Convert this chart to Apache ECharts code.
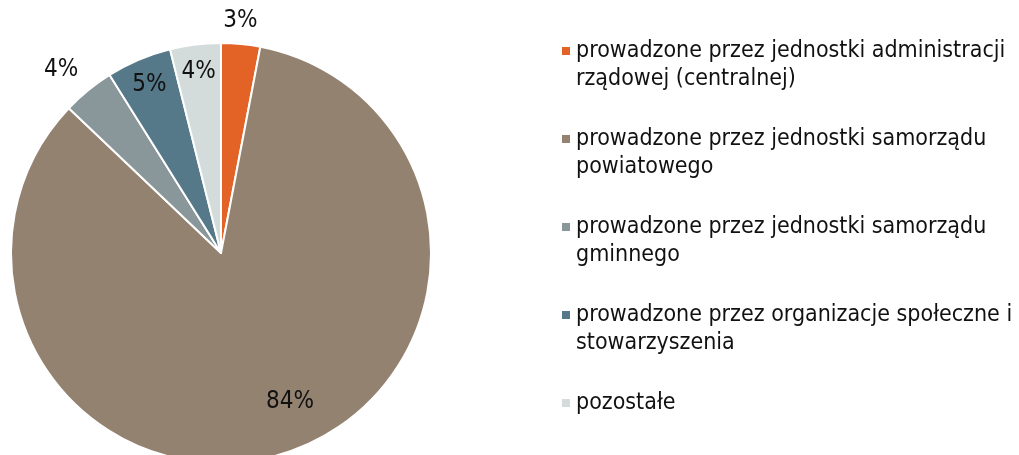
<!DOCTYPE html>
<html>
<head>
    <meta charset="utf-8">
    <title>ECharts</title>
    <style type="text/css">
        html,body {
            height: 100%;
            width: 100%;
            margin: 0;
            padding: 0;
            background: #fff;
        }
        #main {
            width: 1019px;
            height: 455px;
        }
    </style>
    <script src="https://cdn.jsdelivr.net/npm/echarts@6/dist/echarts.min.js"></script>
</head>
<body>
<div id="main"></div>
<script type="text/javascript">
    // dane
    var names = [
        'prowadzone przez jednostki administracji rządowej (centralnej)',
        'prowadzone przez jednostki samorządu powiatowego',
        'prowadzone przez jednostki samorządu gminnego',
        'prowadzone przez organizacje społeczne i stowarzyszenia',
        'pozostałe'
    ];
    var legendLines = [
        ['prowadzone przez jednostki administracji', 'rządowej (centralnej)'],
        ['prowadzone przez jednostki samorządu', 'powiatowego'],
        ['prowadzone przez jednostki samorządu', 'gminnego'],
        ['prowadzone przez organizacje społeczne i', 'stowarzyszenia'],
        ['pozostałe']
    ];
    var values = [3.0, 84.1, 4.0, 5.0, 3.9];
    var colors = ['#E36226', '#948270', '#89969A', '#56798A', '#D3DBDB'];
    // gdzie stoi etykieta: 'out' nad wycinkiem, 'in' w wycinku
    var labelPlace = ['out', 'in', 'out', 'in', 'in'];

    var FONT = "'DejaVu Sans Condensed', 'DejaVu Sans', sans-serif";

    var myChart = echarts.init(document.getElementById('main'));

    function pct(p) {
        return Math.round(p.percent) + '%';
    }

    function helperData(place) {
        return names.map(function (n, i) {
            return {
                name: n,
                value: values[i],
                label: {show: labelPlace[i] === place}
            };
        });
    }

    var helperBase = {
        type: 'pie',
        center: [221, 253],
        startAngle: 90,
        silent: true,
        animation: false,
        itemStyle: {color: 'rgba(0,0,0,0)'},
        labelLine: {show: false},
        label: {
            position: 'inside',
            formatter: pct,
            color: '#111',
            fontFamily: FONT,
            fontSize: 24
        }
    };

    var option = {
        backgroundColor: '#fff',
        legend: {
            orient: 'vertical',
            left: 560,
            top: 9,
            padding: 0,
            itemWidth: 10,
            itemHeight: 10,
            itemGap: 4,
            icon: 'rect',
            selectedMode: false,
            data: names,
            formatter: function (name) {
                // pierwsza linia na wysokości kwadracika: pusty wiersz nad, ew. pod
                var l = legendLines[names.indexOf(name)];
                return ' \n' + l[0] + '\n' + (l[1] || ' ');
            },
            textStyle: {
                color: '#111',
                fontFamily: FONT,
                fontSize: 23,
                lineHeight: 28
            }
        },
        series: [
            {
                type: 'pie',
                center: [221, 253],
                radius: 210,
                startAngle: 90,
                animation: false,
                label: {show: false},
                labelLine: {show: false},
                itemStyle: {borderColor: '#fff', borderWidth: 2},
                data: names.map(function (n, i) {
                    return {name: n, value: values[i], itemStyle: {color: colors[i]}};
                })
            },
            echarts.util.merge({
                radius: [150, 210],
                data: helperData('in'),
                labelLayout: function (p) {
                    // 84% stoi nieco bliżej środka
                    if (p.dataIndex === 1) {
                        return {dx: 13, dy: -25};
                    }
                }
            }, helperBase),
            echarts.util.merge({
                radius: [212, 256],
                data: helperData('out'),
                labelLayout: function (p) {
                    if (p.dataIndex === 0) {
                        return {dx: -3, dy: 4};
                    }
                    if (p.dataIndex === 2) {
                        return {dx: -10};
                    }
                }
            }, helperBase)
        ]
    };

    myChart.setOption(option);
</script>
</body>
</html>
